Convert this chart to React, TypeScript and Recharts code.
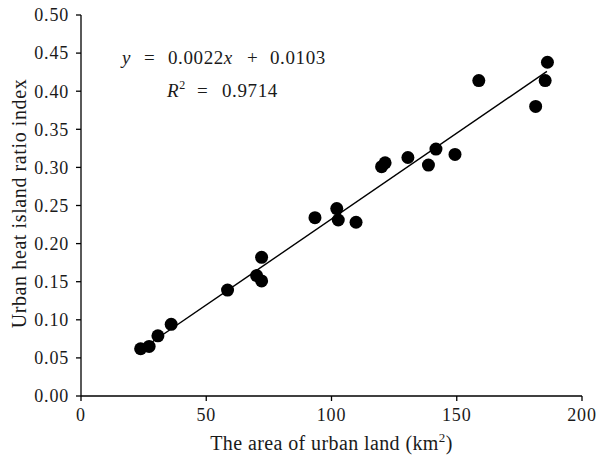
import React from 'react'
import {
  ScatterChart,
  Scatter,
  XAxis,
  YAxis,
  ReferenceLine,
} from 'recharts'

// urban land area (km2) vs urban heat island ratio index
const areaKm2 = [
  23.8, 27.2, 30.7, 36.0, 58.5, 70.1, 72.1, 72.1, 93.4, 102.1, 102.7,
  109.8, 120.0, 121.4, 130.5, 138.7, 141.7, 149.3, 158.8, 181.5, 185.3, 186.2,
]
const heatIndex = [
  0.062, 0.065, 0.079, 0.094, 0.139, 0.158, 0.151, 0.182, 0.234, 0.246, 0.231,
  0.228, 0.301, 0.306, 0.313, 0.303, 0.324, 0.317, 0.414, 0.38, 0.414, 0.438,
]

// fitted line end points as drawn
const trendStart = { x: 24, y: 0.061 }
const trendEnd = { x: 186, y: 0.426 }

const xTicks = [0, 50, 100, 150, 200]
const yTicks = [0, 0.05, 0.1, 0.15, 0.2, 0.25, 0.3, 0.35, 0.4, 0.45, 0.5]

const points = areaKm2.map((x, i) => ({ x, y: heatIndex[i] }))

const FONT = '"Liberation Serif", "DejaVu Serif", serif'
const INK = '#1a1a1a'

const Dot = (props: any) => (
  <circle cx={props.cx} cy={props.cy} r={6.5} fill="#000" />
)

const XTitle = (props: any) => {
  const vb = props.viewBox || {}
  const cx = vb.x + vb.width / 2
  return (
    <text
      x={cx}
      y={vb.y + 54}
      textAnchor="middle"
      fontFamily={FONT}
      fontSize={20}
      letterSpacing={0.4}
      fill={INK}
    >
      The area of urban land (km
      <tspan dy={-8} fontSize={13}>2</tspan>
      <tspan dy={8}>)</tspan>
    </text>
  )
}

const YTitle = (props: any) => {
  const vb = props.viewBox || {}
  const cy = vb.y + vb.height / 2 - 2
  return (
    <text
      x={19}
      y={cy}
      transform={`rotate(-90 19 ${cy})`}
      textAnchor="middle"
      dominantBaseline="central"
      fontFamily={FONT}
      fontSize={20}
      letterSpacing={0.6}
      fill={INK}
    >
      Urban heat island ratio index
    </text>
  )
}

export default function App() {
  const tick = { fill: INK, fontFamily: FONT, fontSize: 18, letterSpacing: 0.8 }
  return (
    <div style={{ position: 'absolute', left: 0, top: 0, width: 599, height: 463, background: '#fff' }}>
      <ScatterChart width={599} height={463} margin={{ top: 15, right: 17, left: 21, bottom: 17 }}>
        <XAxis
          type="number"
          dataKey="x"
          domain={[0, 200]}
          ticks={xTicks}
          tickSize={5}
          height={50}
          axisLine={{ stroke: '#000', strokeWidth: 1.3 }}
          tickLine={{ stroke: '#000', strokeWidth: 1.3 }}
          tick={tick}
          tickMargin={7}
          label={{ content: XTitle }}
        />
        <YAxis
          type="number"
          dataKey="y"
          domain={[0, 0.5]}
          ticks={yTicks}
          tickSize={5}
          width={60}
          axisLine={{ stroke: '#000', strokeWidth: 1.3 }}
          tickLine={{ stroke: '#000', strokeWidth: 1.3 }}
          tick={tick}
          tickMargin={7}
          tickFormatter={(v: number) => v.toFixed(2)}
          label={{ content: YTitle }}
        />
        <ReferenceLine
          segment={[trendStart, trendEnd]}
          stroke="#000"
          strokeWidth={1.4}
          ifOverflow="visible"
        />
        <Scatter data={points} shape={Dot} isAnimationActive={false} />
      </ScatterChart>
      <svg
        width={599}
        height={463}
        style={{ position: 'absolute', left: 0, top: 0, pointerEvents: 'none' }}
      >
        <text fontFamily={FONT} fontSize={19} letterSpacing={0.6} fill={INK} y={64}>
          <tspan x={122} fontStyle="italic">y</tspan>
          <tspan x={144}>=</tspan>
          <tspan x={168}>0.0022</tspan>
          <tspan fontStyle="italic">x</tspan>
          <tspan x={247}>+</tspan>
          <tspan x={270}>0.0103</tspan>
        </text>
        <text fontFamily={FONT} fontSize={19} letterSpacing={0.6} fill={INK} y={97}>
          <tspan x={167} fontStyle="italic">R</tspan>
          <tspan dy={-8} fontSize={12}>2</tspan>
          <tspan x={197} dy={8}>=</tspan>
          <tspan x={222}>0.9714</tspan>
        </text>
      </svg>
    </div>
  )
}
